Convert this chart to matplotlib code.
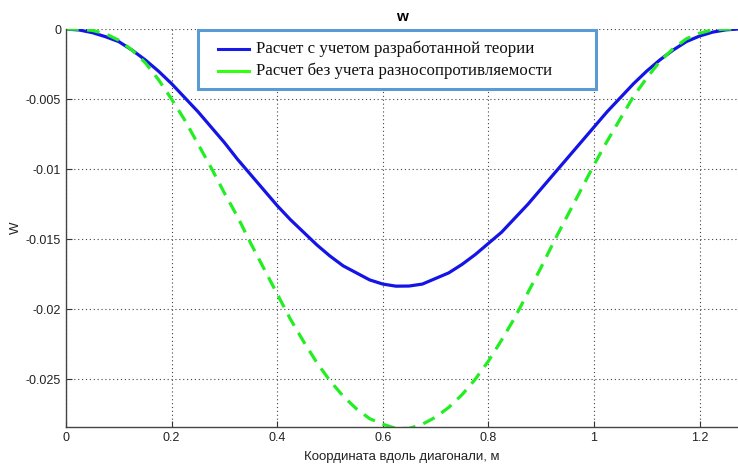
import matplotlib.pyplot as plt
from matplotlib.lines import Line2D
from matplotlib.patches import Rectangle

plt.rcParams['font.family'] = ['Liberation Sans Narrow', 'Liberation Sans', 'DejaVu Sans']

# координата вдоль диагонали, м
x = [0.0, 0.025, 0.05, 0.075, 0.10, 0.125, 0.15, 0.175, 0.20, 0.225, 0.25, 0.275,
     0.30, 0.325, 0.35, 0.375, 0.40, 0.425, 0.45, 0.475, 0.50, 0.525, 0.55, 0.575,
     0.60, 0.625, 0.65, 0.675, 0.70, 0.725, 0.75, 0.775, 0.80, 0.825, 0.85, 0.875,
     0.90, 0.925, 0.95, 0.975, 1.00, 1.025, 1.05, 1.075, 1.10, 1.125, 1.15, 1.175,
     1.20, 1.225, 1.25, 1.2728]
# расчет с учетом разработанной теории
w_theory = [0.0, -0.00007, -0.00026, -0.00055, -0.0009, -0.0015, -0.0022, -0.0030,
            -0.0039, -0.0049, -0.0059, -0.0070, -0.0081, -0.0093, -0.0104, -0.0115,
            -0.0126, -0.0136, -0.0145, -0.0154, -0.0162, -0.0169, -0.0174, -0.0179,
            -0.0182, -0.01835, -0.01834, -0.0182, -0.0178, -0.0174, -0.0168, -0.0161,
            -0.0153, -0.0145, -0.0135, -0.0125, -0.0114, -0.0103, -0.0092, -0.0081,
            -0.0070, -0.0059, -0.0049, -0.0039, -0.0030, -0.0022, -0.0015, -0.0009,
            -0.0005, -0.00022, -0.00006, 0.0]
# расчет без учета разносопротивляемости
w_plain = [0.0, -0.00002, -0.0001, -0.00034, -0.0008, -0.0015, -0.0024, -0.0036,
           -0.0050, -0.0065, -0.0082, -0.0099, -0.0117, -0.0134, -0.0153, -0.0171,
           -0.0189, -0.0207, -0.0223, -0.0238, -0.0251, -0.0262, -0.0271, -0.0278,
           -0.0282, -0.0285, -0.0285, -0.0282, -0.0277, -0.0270, -0.0261, -0.0250,
           -0.0237, -0.0222, -0.0206, -0.0188, -0.0170, -0.0151, -0.0133, -0.0115,
           -0.0097, -0.0080, -0.0064, -0.0048, -0.0035, -0.0023, -0.0014, -0.0007,
           -0.0003, -0.00005, -0.00001, 0.0]

xticks = [0, 0.2, 0.4, 0.6, 0.8, 1.0, 1.2]
xtick_labels = ['0', '0.2', '0.4', '0.6', '0.8', '1', '1.2']
yticks = [0, -0.005, -0.01, -0.015, -0.02, -0.025]
ytick_labels = ['0', '-0.005', '-0.01', '-0.015', '-0.02', '-0.025']
labels = ['Расчет с учетом разработанной теории', 'Расчет без учета разносопротивляемости']

fig = plt.figure(figsize=(7.38, 4.65), dpi=100)
ax = fig.add_axes([0.0894, 0.0817, 0.9106, 0.8559])

ax.plot(x, w_theory, color='#1414e6', lw=2.3, solid_joinstyle='round')
ax.plot(x, w_plain, color='#22ee22', lw=2.3, linestyle=(0, (4, 2.6)))

ax.set_xlim(0, 1.2728)
ax.set_ylim(-0.0284, 0)
ax.set_xticks(xticks)
ax.set_xticklabels(xtick_labels)
ax.set_yticks(yticks)
ax.set_yticklabels(ytick_labels)
ax.tick_params(direction='in', length=4, labelsize=9, colors='#333333', labelcolor='#222222')
ax.grid(True, color='#444444', linestyle=(0, (1, 2.5)), linewidth=0.8)

for s in ['top', 'right']:
    ax.spines[s].set_visible(False)
for s in ['left', 'bottom']:
    ax.spines[s].set_color('#444444')
    ax.spines[s].set_linewidth(1.0)

ax.set_title('w', fontsize=11, fontweight='bold', pad=6)
ax.set_xlabel('Координата вдоль диагонали, м', fontsize=9.5, color='#222222', labelpad=5)
ax.set_ylabel('W', fontsize=9.5, color='#222222', labelpad=3)

# рамка легенды как вставленный текстовый блок
ax.add_patch(Rectangle((0.196, 0.849), 0.593, 0.1485, transform=ax.transAxes,
                       facecolor='white', edgecolor='#5b9bd5', lw=2.2, zorder=5,
                       clip_on=False))
leg_colors = ['#1a1ae6', '#33ff11']
leg_y = [0.9497, 0.8945]
for lab, col, yy in zip(labels, leg_colors, leg_y):
    ax.add_line(Line2D([0.2262, 0.2723], [yy, yy], transform=ax.transAxes,
                       color=col, lw=2.2, zorder=6))
    ax.text(0.2827, yy, lab, transform=ax.transAxes, va='center', ha='left',
            family='Liberation Serif', fontsize=12.2, color='#111111', zorder=6)

fig.savefig('out.png', dpi=100)
